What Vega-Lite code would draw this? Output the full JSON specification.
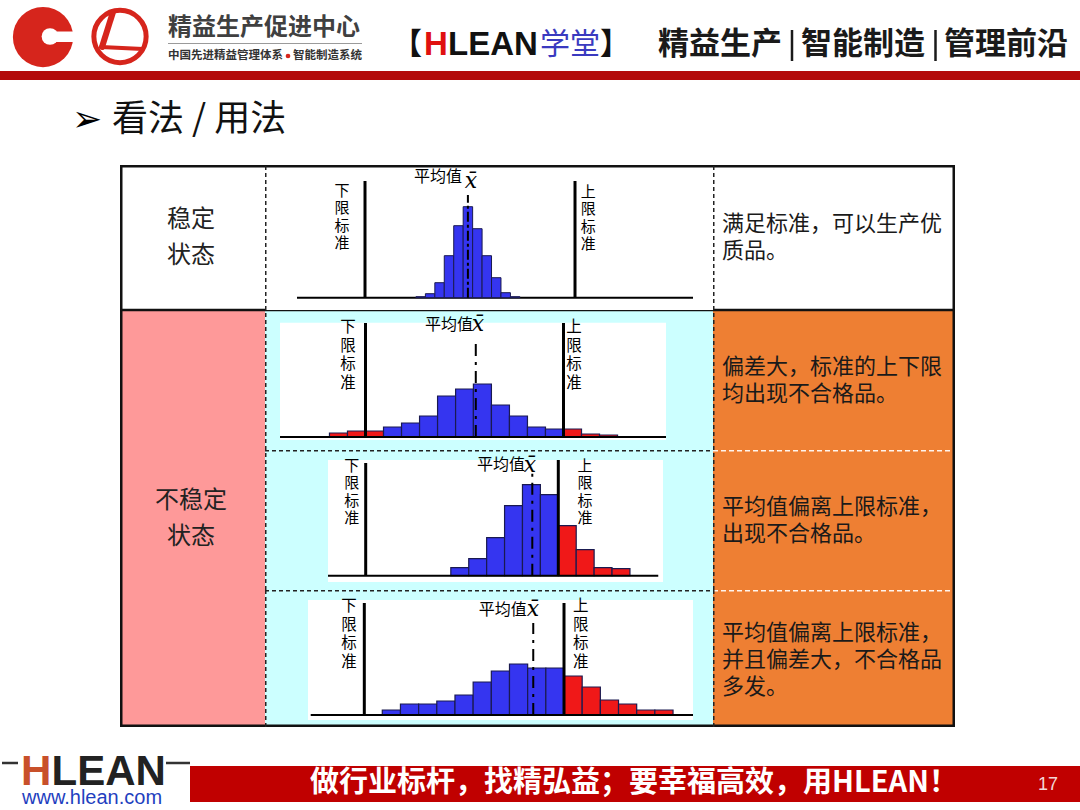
{
  "$schema": "https://vega.github.io/schema/vega-lite/v6.json",
  "padding": 0,
  "background": "white",
  "spacing": 0,
  "config": {
    "view": {"stroke": null},
    "axis": {"disable": true},
    "legend": {"disable": true},
    "text": {"font": "Noto Sans CJK SC"},
    "concat": {"spacing": 0}
  },
  "datasets": {
    "hist": [
      {"panel": 1, "lo": 12.425, "hi": 12.875, "n": 1, "status": "合格"},
      {"panel": 1, "lo": 12.875, "hi": 13.325, "n": 4, "status": "合格"},
      {"panel": 1, "lo": 13.325, "hi": 13.775, "n": 15, "status": "合格"},
      {"panel": 1, "lo": 13.775, "hi": 14.225, "n": 42, "status": "合格"},
      {"panel": 1, "lo": 14.225, "hi": 14.675, "n": 72, "status": "合格"},
      {"panel": 1, "lo": 14.675, "hi": 15.125, "n": 91, "status": "合格"},
      {"panel": 1, "lo": 15.125, "hi": 15.575, "n": 69, "status": "合格"},
      {"panel": 1, "lo": 15.575, "hi": 16.025, "n": 42, "status": "合格"},
      {"panel": 1, "lo": 16.025, "hi": 16.475, "n": 20, "status": "合格"},
      {"panel": 1, "lo": 16.475, "hi": 16.925, "n": 5, "status": "合格"},
      {"panel": 1, "lo": 16.925, "hi": 17.375, "n": 1, "status": "合格"},
      {"panel": 2, "lo": 8.18, "hi": 9.09, "n": 4, "status": "不合格"},
      {"panel": 2, "lo": 9.09, "hi": 10.0, "n": 6, "status": "不合格"},
      {"panel": 2, "lo": 10.0, "hi": 10.91, "n": 6, "status": "不合格"},
      {"panel": 2, "lo": 10.91, "hi": 11.82, "n": 10, "status": "合格"},
      {"panel": 2, "lo": 11.82, "hi": 12.73, "n": 14, "status": "合格"},
      {"panel": 2, "lo": 12.73, "hi": 13.64, "n": 21, "status": "合格"},
      {"panel": 2, "lo": 13.64, "hi": 14.55, "n": 41, "status": "合格"},
      {"panel": 2, "lo": 14.55, "hi": 15.45, "n": 48, "status": "合格"},
      {"panel": 2, "lo": 15.45, "hi": 16.36, "n": 53, "status": "合格"},
      {"panel": 2, "lo": 16.36, "hi": 17.27, "n": 32, "status": "合格"},
      {"panel": 2, "lo": 17.27, "hi": 18.18, "n": 21, "status": "合格"},
      {"panel": 2, "lo": 18.18, "hi": 19.09, "n": 10, "status": "合格"},
      {"panel": 2, "lo": 19.09, "hi": 20.0, "n": 8, "status": "合格"},
      {"panel": 2, "lo": 20.0, "hi": 20.91, "n": 8, "status": "不合格"},
      {"panel": 2, "lo": 20.91, "hi": 21.82, "n": 3, "status": "不合格"},
      {"panel": 2, "lo": 21.82, "hi": 22.73, "n": 2, "status": "不合格"},
      {"panel": 3, "lo": 14.42, "hi": 15.35, "n": 8, "status": "合格"},
      {"panel": 3, "lo": 15.35, "hi": 16.28, "n": 17, "status": "合格"},
      {"panel": 3, "lo": 16.28, "hi": 17.21, "n": 38, "status": "合格"},
      {"panel": 3, "lo": 17.21, "hi": 18.14, "n": 70, "status": "合格"},
      {"panel": 3, "lo": 18.14, "hi": 19.07, "n": 91, "status": "合格"},
      {"panel": 3, "lo": 19.07, "hi": 20.0, "n": 81, "status": "合格"},
      {"panel": 3, "lo": 20.0, "hi": 20.93, "n": 50, "status": "不合格"},
      {"panel": 3, "lo": 20.93, "hi": 21.86, "n": 26, "status": "不合格"},
      {"panel": 3, "lo": 21.86, "hi": 22.79, "n": 8, "status": "不合格"},
      {"panel": 3, "lo": 22.79, "hi": 23.72, "n": 7, "status": "不合格"},
      {"panel": 4, "lo": 10.9, "hi": 11.81, "n": 5, "status": "合格"},
      {"panel": 4, "lo": 11.81, "hi": 12.72, "n": 11, "status": "合格"},
      {"panel": 4, "lo": 12.72, "hi": 13.63, "n": 11, "status": "合格"},
      {"panel": 4, "lo": 13.63, "hi": 14.54, "n": 14, "status": "合格"},
      {"panel": 4, "lo": 14.54, "hi": 15.45, "n": 20, "status": "合格"},
      {"panel": 4, "lo": 15.45, "hi": 16.36, "n": 33, "status": "合格"},
      {"panel": 4, "lo": 16.36, "hi": 17.27, "n": 44, "status": "合格"},
      {"panel": 4, "lo": 17.27, "hi": 18.18, "n": 51, "status": "合格"},
      {"panel": 4, "lo": 18.18, "hi": 19.09, "n": 47, "status": "合格"},
      {"panel": 4, "lo": 19.09, "hi": 20.0, "n": 47, "status": "合格"},
      {"panel": 4, "lo": 20.0, "hi": 20.91, "n": 39, "status": "不合格"},
      {"panel": 4, "lo": 20.91, "hi": 21.82, "n": 28, "status": "不合格"},
      {"panel": 4, "lo": 21.82, "hi": 22.73, "n": 15, "status": "不合格"},
      {"panel": 4, "lo": 22.73, "hi": 23.64, "n": 11, "status": "不合格"},
      {"panel": 4, "lo": 23.64, "hi": 24.55, "n": 5, "status": "不合格"},
      {"panel": 4, "lo": 24.55, "hi": 25.46, "n": 5, "status": "不合格"}
    ],
    "limits": [
      {"panel": 1, "lsl": 10, "usl": 20, "mean": 14.9},
      {"panel": 2, "lsl": 10, "usl": 20, "mean": 15.57},
      {"panel": 3, "lsl": 10, "usl": 20, "mean": 18.65},
      {"panel": 4, "lsl": 10, "usl": 20, "mean": 18.46}
    ]
  },
  "vconcat": [
    {
      "width": 1080, "height": 80,
      "data": {"values": [{}]},
      "layer": [
        {"mark": {"type": "point", "shape": "circle", "filled": true, "size": 3630, "color": "#d6251c", "opacity": 1, "strokeWidth": 0},
         "encoding": {"x": {"datum": 43, "type": "quantitative", "scale": {"domain": [0, 1080], "nice": false, "zero": false}, "axis": null},
                      "y": {"datum": 37, "type": "quantitative", "scale": {"domain": [0, 80], "reverse": true, "nice": false, "zero": false}, "axis": null}}},
        {"mark": {"type": "point", "shape": "circle", "filled": true, "size": 280, "color": "white", "opacity": 1, "strokeWidth": 0},
         "encoding": {"x": {"datum": 50}, "y": {"datum": 36.5}}},
        {"mark": {"type": "rect", "color": "white"},
         "encoding": {"x": {"datum": 50}, "x2": {"datum": 80}, "y": {"datum": 31.5}, "y2": {"datum": 42}}},
        {"mark": {"type": "point", "shape": "circle", "filled": false, "size": 2734, "color": "#d6251c", "strokeWidth": 5, "opacity": 1},
         "encoding": {"x": {"datum": 120}, "y": {"datum": 36.5}}},
        {"mark": {"type": "rule", "color": "#d6251c", "strokeWidth": 6, "strokeCap": "round"},
         "encoding": {"x": {"datum": 113}, "y": {"datum": 12}, "x2": {"datum": 102}, "y2": {"datum": 47}}},
        {"mark": {"type": "rule", "color": "#d6251c", "strokeWidth": 4, "strokeCap": "round"},
         "encoding": {"x": {"datum": 101}, "y": {"datum": 47}, "x2": {"datum": 143}, "y2": {"datum": 49}}},
        {"mark": {"type": "text", "text": "精益生产促进中心", "fontSize": 24, "fontWeight": "bold", "color": "#404040", "align": "left", "baseline": "middle"},
         "encoding": {"x": {"datum": 168}, "y": {"datum": 28}}},
        {"mark": {"type": "rule", "color": "#9a9a9a", "strokeWidth": 1},
         "encoding": {"x": {"datum": 168}, "x2": {"datum": 362}, "y": {"datum": 43.5}}},
        {"mark": {"type": "text", "text": "中国先进精益管理体系", "fontSize": 11.5, "fontWeight": "bold", "color": "#333333", "align": "left", "baseline": "middle"},
         "encoding": {"x": {"datum": 168}, "y": {"datum": 56}}},
        {"mark": {"type": "point", "shape": "circle", "filled": true, "size": 22, "color": "#d6251c", "opacity": 1, "strokeWidth": 0},
         "encoding": {"x": {"datum": 288}, "y": {"datum": 56}}},
        {"mark": {"type": "text", "text": "智能制造系统", "fontSize": 11.5, "fontWeight": "bold", "color": "#333333", "align": "left", "baseline": "middle"},
         "encoding": {"x": {"datum": 293}, "y": {"datum": 56}}},
        {"mark": {"type": "text", "text": "【", "fontSize": 30, "fontWeight": "bold", "color": "#111111", "align": "left", "baseline": "middle"},
         "encoding": {"x": {"datum": 392}, "y": {"datum": 45}}},
        {"mark": {"type": "text", "text": "H", "font": "Liberation Sans", "fontSize": 33, "fontWeight": "bold", "color": "#e01010", "align": "left", "baseline": "middle"},
         "encoding": {"x": {"datum": 424}, "y": {"datum": 45}}},
        {"mark": {"type": "text", "text": "LEAN", "font": "Liberation Sans", "fontSize": 33, "fontWeight": "bold", "color": "#111111", "align": "left", "baseline": "middle"},
         "encoding": {"x": {"datum": 448}, "y": {"datum": 45}}},
        {"mark": {"type": "text", "text": "学堂", "fontSize": 30, "color": "#3a3ac0", "align": "left", "baseline": "middle"},
         "encoding": {"x": {"datum": 540}, "y": {"datum": 45}}},
        {"mark": {"type": "text", "text": "】", "fontSize": 30, "fontWeight": "bold", "color": "#111111", "align": "left", "baseline": "middle"},
         "encoding": {"x": {"datum": 600}, "y": {"datum": 45}}},
        {"mark": {"type": "text", "text": "精益生产", "fontSize": 31, "fontWeight": "bold", "color": "#1a1a1a", "align": "left", "baseline": "middle"},
         "encoding": {"x": {"datum": 658}, "y": {"datum": 45}}},
        {"mark": {"type": "rule", "color": "#1a1a1a", "strokeWidth": 2.5},
         "encoding": {"x": {"datum": 792}, "y": {"datum": 30}, "y2": {"datum": 61}}},
        {"mark": {"type": "text", "text": "智能制造", "fontSize": 31, "fontWeight": "bold", "color": "#1a1a1a", "align": "left", "baseline": "middle"},
         "encoding": {"x": {"datum": 801}, "y": {"datum": 45}}},
        {"mark": {"type": "rule", "color": "#1a1a1a", "strokeWidth": 2.5},
         "encoding": {"x": {"datum": 935.5}, "y": {"datum": 30}, "y2": {"datum": 61}}},
        {"mark": {"type": "text", "text": "管理前沿", "fontSize": 31, "fontWeight": "bold", "color": "#1a1a1a", "align": "left", "baseline": "middle"},
         "encoding": {"x": {"datum": 944}, "y": {"datum": 45}}},
        {"mark": {"type": "rect", "color": "#b30a0a"},
         "encoding": {"x": {"datum": 0}, "x2": {"datum": 1080}, "y": {"datum": 71}, "y2": {"datum": 80}}}
      ]
    },
    {
      "width": 1080, "height": 85,
      "data": {"values": [{}]},
      "layer": [
        {"mark": {"type": "text", "text": "➢", "font": "DejaVu Sans", "fontSize": 36, "color": "#000000", "align": "center", "baseline": "middle"},
         "encoding": {"x": {"datum": 87, "type": "quantitative", "scale": {"domain": [0, 1080], "nice": false, "zero": false}, "axis": null},
                      "y": {"datum": 40, "type": "quantitative", "scale": {"domain": [0, 85], "reverse": true, "nice": false, "zero": false}, "axis": null}}},
        {"mark": {"type": "text", "text": "看法 / 用法", "fontSize": 36, "color": "#111111", "align": "left", "baseline": "middle"},
         "encoding": {"x": {"datum": 112}, "y": {"datum": 40}}}
      ]
    },
    {
      "hconcat": [
        {"width": 120, "height": 562, "data": {"values": [{}]}, "mark": {"type": "text", "text": ""}},
        {
          "vconcat": [
            {
              "width": 145, "height": 145,
              "view": {"fill": "white", "stroke": null},
              "data": {"values": [{}]},
              "layer": [
                {"mark": {"type": "text", "text": ["稳定", "状态"], "fontSize": 24, "lineHeight": 36, "dy": -18, "color": "#222222", "align": "center", "baseline": "middle"},
                 "encoding": {"x": {"datum": 0.49, "type": "quantitative", "scale": {"domain": [0, 1], "nice": false, "zero": false}, "axis": null},
                              "y": {"datum": 0.5, "type": "quantitative", "scale": {"domain": [0, 1], "nice": false, "zero": false}, "axis": null}}},
                {"mark": {"type": "rule", "color": "#111111", "strokeWidth": 5, "clip": true}, "encoding": {"x": {"datum": 0}, "y": {"datum": 0}, "y2": {"datum": 1}}},
                {"mark": {"type": "rule", "color": "#111111", "strokeWidth": 5, "clip": true}, "encoding": {"x": {"datum": 0}, "x2": {"datum": 1}, "y": {"datum": 1}}},
                {"mark": {"type": "rule", "color": "#111111", "strokeWidth": 2.5, "clip": true}, "encoding": {"x": {"datum": 0}, "x2": {"datum": 1}, "y": {"datum": 0}}}
              ]
            },
            {
              "width": 145, "height": 417,
              "view": {"fill": "#fe9999", "stroke": null},
              "data": {"values": [{}]},
              "layer": [
                {"mark": {"type": "text", "text": ["不稳定", "状态"], "fontSize": 24, "lineHeight": 36, "dy": -18, "color": "#222222", "align": "center", "baseline": "middle"},
                 "encoding": {"x": {"datum": 0.49, "type": "quantitative", "scale": {"domain": [0, 1], "nice": false, "zero": false}, "axis": null},
                              "y": {"datum": 0.5, "type": "quantitative", "scale": {"domain": [0, 1], "nice": false, "zero": false}, "axis": null}}},
                {"mark": {"type": "rule", "color": "#111111", "strokeWidth": 5, "clip": true}, "encoding": {"x": {"datum": 0}, "y": {"datum": 0}, "y2": {"datum": 1}}},
                {"mark": {"type": "rule", "color": "#111111", "strokeWidth": 2.5, "clip": true}, "encoding": {"x": {"datum": 0}, "x2": {"datum": 1}, "y": {"datum": 1}}},
                {"mark": {"type": "rule", "color": "#111111", "strokeWidth": 5, "clip": true}, "encoding": {"x": {"datum": 0}, "x2": {"datum": 1}, "y": {"datum": 0}}}
              ]
            }
          ],
          "spacing": 0
        },
        {
          "vconcat": [
            {
              "width": 448, "height": 145,
              "view": {"fill": "white", "stroke": null},
              "data": {"values": [{}]},
              "layer": [
                {"mark": {"type": "rule", "color": "black", "strokeWidth": 2},
                 "encoding": {"x": {"datum": 6.762, "type": "quantitative", "scale": {"domain": [5.238, 26.571], "nice": false, "zero": false}, "axis": null},
                              "x2": {"datum": 25.619},
                              "y": {"datum": 0, "type": "quantitative", "scale": {"domain": [-12.3, 132.7], "nice": false, "zero": false}, "axis": null}}},
                {"data": {"name": "hist"}, "transform": [{"filter": "datum.panel == 1"}],
                 "mark": {"type": "rect", "stroke": "#1a1a50", "strokeWidth": 1},
                 "encoding": {"x": {"field": "lo", "type": "quantitative"}, "x2": {"field": "hi"},
                              "y": {"field": "n", "type": "quantitative"}, "y2": {"datum": 0},
                              "color": {"field": "status", "type": "nominal", "scale": {"domain": ["合格", "不合格"], "range": ["#3535f0", "#f01818"]}, "legend": null}}},
                {"data": {"name": "limits"}, "transform": [{"filter": "datum.panel == 1"}],
                 "mark": {"type": "rule", "color": "black", "strokeWidth": 3},
                 "encoding": {"x": {"field": "lsl", "type": "quantitative"}, "y": {"datum": 0}, "y2": {"datum": 116.7}}},
                {"data": {"name": "limits"}, "transform": [{"filter": "datum.panel == 1"}],
                 "mark": {"type": "rule", "color": "black", "strokeWidth": 3},
                 "encoding": {"x": {"field": "usl", "type": "quantitative"}, "y": {"datum": 0}, "y2": {"datum": 116.7}}},
                {"data": {"name": "limits"}, "transform": [{"filter": "datum.panel == 1"}],
                 "mark": {"type": "rule", "color": "black", "strokeWidth": 2, "strokeDash": [10, 3, 3, 3]},
                 "encoding": {"x": {"field": "mean", "type": "quantitative"}, "y": {"datum": 0}, "y2": {"datum": 102.7}}},
                {"mark": {"type": "text", "text": ["下", "限", "标", "准"], "fontSize": 15, "lineHeight": 17.5, "color": "black", "align": "center", "baseline": "top"},
                 "encoding": {"x": {"datum": 8.905}, "y": {"datum": 114}}},
                {"mark": {"type": "text", "text": ["上", "限", "标", "准"], "fontSize": 15, "lineHeight": 17.5, "color": "black", "align": "center", "baseline": "top"},
                 "encoding": {"x": {"datum": 20.633}, "y": {"datum": 113}}},
                {"mark": {"type": "text", "text": "平均值", "fontSize": 16, "color": "black", "align": "right", "baseline": "middle"},
                 "encoding": {"x": {"datum": 14.62}, "y": {"datum": 120.7}}},
                {"mark": {"type": "text", "text": "x̄", "font": "DejaVu Serif", "fontStyle": "italic", "fontSize": 22, "color": "black", "align": "center", "baseline": "middle"},
                 "encoding": {"x": {"datum": 15.05}, "y": {"datum": 117}}},
                {"mark": {"type": "rule", "color": "#111111", "strokeWidth": 5, "clip": true},
                 "encoding": {"x": {"datum": 5.238}, "x2": {"datum": 26.571}, "y": {"datum": 132.7}}},
                {"mark": {"type": "rule", "color": "#222222", "strokeWidth": 3, "strokeDash": [4, 3], "clip": true},
                 "encoding": {"x": {"datum": 5.238}, "y": {"datum": -12.3}, "y2": {"datum": 132.7}}}
              ]
            },
            {
              "width": 448, "height": 140,
              "view": {"fill": "#ccffff", "stroke": null},
              "data": {"values": [{}]},
              "layer": [
                {"mark": {"type": "rect", "color": "white"},
                 "encoding": {"x": {"datum": 5.682, "type": "quantitative", "scale": {"domain": [4.924, 27.551], "nice": false, "zero": false}, "axis": null},
                              "x2": {"datum": 25.177},
                              "y": {"datum": 114.3, "type": "quantitative", "scale": {"domain": [-13, 127], "nice": false, "zero": false}, "axis": null},
                              "y2": {"datum": -3}}},
                {"data": {"name": "hist"}, "transform": [{"filter": "datum.panel == 2"}],
                 "mark": {"type": "rect", "stroke": "#1a1a50", "strokeWidth": 1.2},
                 "encoding": {"x": {"field": "lo", "type": "quantitative"}, "x2": {"field": "hi"},
                              "y": {"field": "n", "type": "quantitative"}, "y2": {"datum": 0},
                              "color": {"field": "status", "type": "nominal", "scale": {"domain": ["合格", "不合格"], "range": ["#3535f0", "#f01818"]}, "legend": null}}},
                {"mark": {"type": "rule", "color": "black", "strokeWidth": 2},
                 "encoding": {"x": {"datum": 5.682}, "x2": {"datum": 25.177}, "y": {"datum": 0}}},
                {"data": {"name": "limits"}, "transform": [{"filter": "datum.panel == 2"}],
                 "mark": {"type": "rule", "color": "black", "strokeWidth": 3},
                 "encoding": {"x": {"field": "lsl", "type": "quantitative"}, "y": {"datum": 0}, "y2": {"datum": 114}}},
                {"data": {"name": "limits"}, "transform": [{"filter": "datum.panel == 2"}],
                 "mark": {"type": "rule", "color": "black", "strokeWidth": 3},
                 "encoding": {"x": {"field": "usl", "type": "quantitative"}, "y": {"datum": 0}, "y2": {"datum": 114}}},
                {"data": {"name": "limits"}, "transform": [{"filter": "datum.panel == 2"}],
                 "mark": {"type": "rule", "color": "black", "strokeWidth": 2, "strokeDash": [12, 6, 3, 6]},
                 "encoding": {"x": {"field": "mean", "type": "quantitative"}, "y": {"datum": 0}, "y2": {"datum": 94}}},
                {"mark": {"type": "text", "text": ["下", "限", "标", "准"], "fontSize": 15.5, "lineHeight": 18.5, "color": "black", "align": "center", "baseline": "top"},
                 "encoding": {"x": {"datum": 9.116}, "y": {"datum": 117}}},
                {"mark": {"type": "text", "text": ["上", "限", "标", "准"], "fontSize": 15.5, "lineHeight": 18.5, "color": "black", "align": "center", "baseline": "top"},
                 "encoding": {"x": {"datum": 20.53}, "y": {"datum": 117}}},
                {"mark": {"type": "text", "text": "平均值", "fontSize": 16, "color": "black", "align": "right", "baseline": "middle"},
                 "encoding": {"x": {"datum": 15.429}, "y": {"datum": 112}}},
                {"mark": {"type": "text", "text": "x̄", "font": "DejaVu Serif", "fontStyle": "italic", "fontSize": 22, "color": "black", "align": "center", "baseline": "middle"},
                 "encoding": {"x": {"datum": 15.682}, "y": {"datum": 113}}},
                {"mark": {"type": "rule", "color": "#111111", "strokeWidth": 2.5, "clip": true},
                 "encoding": {"x": {"datum": 4.924}, "x2": {"datum": 27.551}, "y": {"datum": 127}}},
                {"mark": {"type": "rule", "color": "#222222", "strokeWidth": 3, "strokeDash": [4, 3], "clip": true},
                 "encoding": {"x": {"datum": 4.924}, "y": {"datum": -13}, "y2": {"datum": 127}}}
              ]
            },
            {
              "width": 448, "height": 140,
              "view": {"fill": "#ccffff", "stroke": null},
              "data": {"values": [{}]},
              "layer": [
                {"mark": {"type": "rect", "color": "white"},
                 "encoding": {"x": {"datum": 8.043, "type": "quantitative", "scale": {"domain": [4.772, 28.032], "nice": false, "zero": false}, "axis": null},
                              "x2": {"datum": 25.436},
                              "y": {"datum": 115.7, "type": "quantitative", "scale": {"domain": [-14.3, 125.7], "nice": false, "zero": false}, "axis": null},
                              "y2": {"datum": -6.3}}},
                {"data": {"name": "hist"}, "transform": [{"filter": "datum.panel == 3"}],
                 "mark": {"type": "rect", "stroke": "#1a1a50", "strokeWidth": 1.2},
                 "encoding": {"x": {"field": "lo", "type": "quantitative"}, "x2": {"field": "hi"},
                              "y": {"field": "n", "type": "quantitative"}, "y2": {"datum": 0},
                              "color": {"field": "status", "type": "nominal", "scale": {"domain": ["合格", "不合格"], "range": ["#3535f0", "#f01818"]}, "legend": null}}},
                {"mark": {"type": "rule", "color": "black", "strokeWidth": 2},
                 "encoding": {"x": {"datum": 8.043}, "x2": {"datum": 25.19}, "y": {"datum": 0}}},
                {"data": {"name": "limits"}, "transform": [{"filter": "datum.panel == 3"}],
                 "mark": {"type": "rule", "color": "black", "strokeWidth": 3},
                 "encoding": {"x": {"field": "lsl", "type": "quantitative"}, "y": {"datum": 0}, "y2": {"datum": 112.7}}},
                {"data": {"name": "limits"}, "transform": [{"filter": "datum.panel == 3"}],
                 "mark": {"type": "rule", "color": "black", "strokeWidth": 3},
                 "encoding": {"x": {"field": "usl", "type": "quantitative"}, "y": {"datum": 0}, "y2": {"datum": 115.7}}},
                {"data": {"name": "limits"}, "transform": [{"filter": "datum.panel == 3"}],
                 "mark": {"type": "rule", "color": "black", "strokeWidth": 2, "strokeDash": [12, 6, 3, 6]},
                 "encoding": {"x": {"field": "mean", "type": "quantitative"}, "y": {"datum": 0}, "y2": {"datum": 107.7}}},
                {"mark": {"type": "text", "text": ["下", "限", "标", "准"], "fontSize": 15, "lineHeight": 17.5, "color": "black", "align": "center", "baseline": "top"},
                 "encoding": {"x": {"datum": 9.273}, "y": {"datum": 117}}},
                {"mark": {"type": "text", "text": ["上", "限", "标", "准"], "fontSize": 15, "lineHeight": 17.5, "color": "black", "align": "center", "baseline": "top"},
                 "encoding": {"x": {"datum": 21.386}, "y": {"datum": 117}}},
                {"mark": {"type": "text", "text": "平均值", "fontSize": 16, "color": "black", "align": "right", "baseline": "middle"},
                 "encoding": {"x": {"datum": 18.271}, "y": {"datum": 110.7}}},
                {"mark": {"type": "text", "text": "x̄", "font": "DejaVu Serif", "fontStyle": "italic", "fontSize": 22, "color": "black", "align": "center", "baseline": "middle"},
                 "encoding": {"x": {"datum": 18.53}, "y": {"datum": 111}}},
                {"mark": {"type": "rule", "color": "#222222", "strokeWidth": 3, "strokeDash": [4, 3], "clip": true},
                 "encoding": {"x": {"datum": 4.772}, "x2": {"datum": 28.032}, "y": {"datum": 125.7}}},
                {"mark": {"type": "rule", "color": "#222222", "strokeWidth": 3, "strokeDash": [4, 3], "clip": true},
                 "encoding": {"x": {"datum": 4.772}, "y": {"datum": -14.3}, "y2": {"datum": 125.7}}}
              ]
            },
            {
              "width": 448, "height": 137,
              "view": {"fill": "#ccffff", "stroke": null},
              "data": {"values": [{}]},
              "layer": [
                {"mark": {"type": "rect", "color": "white"},
                 "encoding": {"x": {"datum": 7.181, "type": "quantitative", "scale": {"domain": [5.027, 27.461], "nice": false, "zero": false}, "axis": null},
                              "x2": {"datum": 26.46},
                              "y": {"datum": 115, "type": "quantitative", "scale": {"domain": [-12, 125], "nice": false, "zero": false}, "axis": null},
                              "y2": {"datum": -5}}},
                {"data": {"name": "hist"}, "transform": [{"filter": "datum.panel == 4"}],
                 "mark": {"type": "rect", "stroke": "#1a1a50", "strokeWidth": 1.2},
                 "encoding": {"x": {"field": "lo", "type": "quantitative"}, "x2": {"field": "hi"},
                              "y": {"field": "n", "type": "quantitative"}, "y2": {"datum": 0},
                              "color": {"field": "status", "type": "nominal", "scale": {"domain": ["合格", "不合格"], "range": ["#3535f0", "#f01818"]}, "legend": null}}},
                {"mark": {"type": "rule", "color": "black", "strokeWidth": 2},
                 "encoding": {"x": {"datum": 7.316}, "x2": {"datum": 26.46}, "y": {"datum": 0}}},
                {"data": {"name": "limits"}, "transform": [{"filter": "datum.panel == 4"}],
                 "mark": {"type": "rule", "color": "black", "strokeWidth": 3},
                 "encoding": {"x": {"field": "lsl", "type": "quantitative"}, "y": {"datum": 0}, "y2": {"datum": 112}}},
                {"data": {"name": "limits"}, "transform": [{"filter": "datum.panel == 4"}],
                 "mark": {"type": "rule", "color": "black", "strokeWidth": 3},
                 "encoding": {"x": {"field": "usl", "type": "quantitative"}, "y": {"datum": 0}, "y2": {"datum": 112}}},
                {"data": {"name": "limits"}, "transform": [{"filter": "datum.panel == 4"}],
                 "mark": {"type": "rule", "color": "black", "strokeWidth": 2, "strokeDash": [12, 6, 3, 6]},
                 "encoding": {"x": {"field": "mean", "type": "quantitative"}, "y": {"datum": 0}, "y2": {"datum": 92}}},
                {"mark": {"type": "text", "text": ["下", "限", "标", "准"], "fontSize": 15.5, "lineHeight": 18.5, "color": "black", "align": "center", "baseline": "top"},
                 "encoding": {"x": {"datum": 9.234}, "y": {"datum": 116}}},
                {"mark": {"type": "text", "text": ["上", "限", "标", "准"], "fontSize": 15.5, "lineHeight": 18.5, "color": "black", "align": "center", "baseline": "top"},
                 "encoding": {"x": {"datum": 20.836}, "y": {"datum": 116}}},
                {"mark": {"type": "text", "text": "平均值", "fontSize": 16, "color": "black", "align": "right", "baseline": "middle"},
                 "encoding": {"x": {"datum": 18.132}, "y": {"datum": 105.3}}},
                {"mark": {"type": "text", "text": "x̄", "font": "DejaVu Serif", "fontStyle": "italic", "fontSize": 22, "color": "black", "align": "center", "baseline": "middle"},
                 "encoding": {"x": {"datum": 18.45}, "y": {"datum": 106}}},
                {"mark": {"type": "rule", "color": "#222222", "strokeWidth": 3, "strokeDash": [4, 3], "clip": true},
                 "encoding": {"x": {"datum": 5.027}, "x2": {"datum": 27.461}, "y": {"datum": 125}}},
                {"mark": {"type": "rule", "color": "#111111", "strokeWidth": 5, "clip": true},
                 "encoding": {"x": {"datum": 5.027}, "x2": {"datum": 27.461}, "y": {"datum": -12}}},
                {"mark": {"type": "rule", "color": "#222222", "strokeWidth": 3, "strokeDash": [4, 3], "clip": true},
                 "encoding": {"x": {"datum": 5.027}, "y": {"datum": -12}, "y2": {"datum": 125}}}
              ]
            }
          ],
          "spacing": 0
        },
        {
          "vconcat": [
            {
              "width": 242, "height": 145,
              "view": {"fill": "white", "stroke": null},
              "data": {"values": [{}]},
              "layer": [
                {"mark": {"type": "text", "text": ["满足标准，可以生产优", "质品。"], "fontSize": 22, "lineHeight": 27, "dy": -13.5, "color": "#1a1a1a", "align": "left", "baseline": "middle"},
                 "encoding": {"x": {"datum": 0.037, "type": "quantitative", "scale": {"domain": [0, 1], "nice": false, "zero": false}, "axis": null},
                              "y": {"datum": 0.5, "type": "quantitative", "scale": {"domain": [0, 1], "nice": false, "zero": false}, "axis": null}}},
                {"mark": {"type": "rule", "color": "#111111", "strokeWidth": 5, "clip": true}, "encoding": {"x": {"datum": 0}, "x2": {"datum": 1}, "y": {"datum": 1}}},
                {"mark": {"type": "rule", "color": "#111111", "strokeWidth": 2.5, "clip": true}, "encoding": {"x": {"datum": 0}, "x2": {"datum": 1}, "y": {"datum": 0}}},
                {"mark": {"type": "rule", "color": "#111111", "strokeWidth": 5, "clip": true}, "encoding": {"x": {"datum": 1}, "y": {"datum": 0}, "y2": {"datum": 1}}},
                {"mark": {"type": "rule", "color": "#222222", "strokeWidth": 3, "strokeDash": [4, 3], "clip": true}, "encoding": {"x": {"datum": 0}, "y": {"datum": 0}, "y2": {"datum": 1}}}
              ]
            },
            {
              "width": 242, "height": 140,
              "view": {"fill": "#ee7f33", "stroke": null},
              "data": {"values": [{}]},
              "layer": [
                {"mark": {"type": "text", "text": ["偏差大，标准的上下限", "均出现不合格品。"], "fontSize": 22, "lineHeight": 27, "dy": -13.5, "color": "#1a1a1a", "align": "left", "baseline": "middle"},
                 "encoding": {"x": {"datum": 0.037, "type": "quantitative", "scale": {"domain": [0, 1], "nice": false, "zero": false}, "axis": null},
                              "y": {"datum": 0.5, "type": "quantitative", "scale": {"domain": [0, 1], "nice": false, "zero": false}, "axis": null}}},
                {"mark": {"type": "rule", "color": "#111111", "strokeWidth": 2.5, "clip": true}, "encoding": {"x": {"datum": 0}, "x2": {"datum": 1}, "y": {"datum": 1}}},
                {"mark": {"type": "rule", "color": "#111111", "strokeWidth": 5, "clip": true}, "encoding": {"x": {"datum": 1}, "y": {"datum": 0}, "y2": {"datum": 1}}},
                {"mark": {"type": "rule", "color": "#222222", "strokeWidth": 3, "strokeDash": [4, 3], "clip": true}, "encoding": {"x": {"datum": 0}, "y": {"datum": 0}, "y2": {"datum": 1}}}
              ]
            },
            {
              "width": 242, "height": 140,
              "view": {"fill": "#ee7f33", "stroke": null},
              "data": {"values": [{}]},
              "layer": [
                {"mark": {"type": "text", "text": ["平均值偏离上限标准，", "出现不合格品。"], "fontSize": 22, "lineHeight": 27, "dy": -13.5, "color": "#1a1a1a", "align": "left", "baseline": "middle"},
                 "encoding": {"x": {"datum": 0.037, "type": "quantitative", "scale": {"domain": [0, 1], "nice": false, "zero": false}, "axis": null},
                              "y": {"datum": 0.5, "type": "quantitative", "scale": {"domain": [0, 1], "nice": false, "zero": false}, "axis": null}}},
                {"mark": {"type": "rule", "color": "#fff4ec", "strokeWidth": 3, "strokeDash": [5, 3], "clip": true}, "encoding": {"x": {"datum": 0}, "x2": {"datum": 1}, "y": {"datum": 1}}},
                {"mark": {"type": "rule", "color": "#111111", "strokeWidth": 5, "clip": true}, "encoding": {"x": {"datum": 1}, "y": {"datum": 0}, "y2": {"datum": 1}}},
                {"mark": {"type": "rule", "color": "#222222", "strokeWidth": 3, "strokeDash": [4, 3], "clip": true}, "encoding": {"x": {"datum": 0}, "y": {"datum": 0}, "y2": {"datum": 1}}}
              ]
            },
            {
              "width": 242, "height": 137,
              "view": {"fill": "#ee7f33", "stroke": null},
              "data": {"values": [{}]},
              "layer": [
                {"mark": {"type": "text", "text": ["平均值偏离上限标准，", "并且偏差大，不合格品", "多发。"], "fontSize": 22, "lineHeight": 27, "dy": -27, "color": "#1a1a1a", "align": "left", "baseline": "middle"},
                 "encoding": {"x": {"datum": 0.037, "type": "quantitative", "scale": {"domain": [0, 1], "nice": false, "zero": false}, "axis": null},
                              "y": {"datum": 0.49, "type": "quantitative", "scale": {"domain": [0, 1], "nice": false, "zero": false}, "axis": null}}},
                {"mark": {"type": "rule", "color": "#fff4ec", "strokeWidth": 3, "strokeDash": [5, 3], "clip": true}, "encoding": {"x": {"datum": 0}, "x2": {"datum": 1}, "y": {"datum": 1}}},
                {"mark": {"type": "rule", "color": "#111111", "strokeWidth": 5, "clip": true}, "encoding": {"x": {"datum": 1}, "y": {"datum": 0}, "y2": {"datum": 1}}},
                {"mark": {"type": "rule", "color": "#111111", "strokeWidth": 5, "clip": true}, "encoding": {"x": {"datum": 0}, "x2": {"datum": 1}, "y": {"datum": 0}}},
                {"mark": {"type": "rule", "color": "#222222", "strokeWidth": 3, "strokeDash": [4, 3], "clip": true}, "encoding": {"x": {"datum": 0}, "y": {"datum": 0}, "y2": {"datum": 1}}}
              ]
            }
          ],
          "spacing": 0
        },
        {"width": 125, "height": 562, "data": {"values": [{}]}, "mark": {"type": "text", "text": ""}}
      ],
      "spacing": 0
    },
    {
      "width": 1080, "height": 83,
      "data": {"values": [{}]},
      "layer": [
        {"mark": {"type": "rule", "color": "#333333", "strokeWidth": 2.5},
         "encoding": {"x": {"datum": 2, "type": "quantitative", "scale": {"domain": [0, 1080], "nice": false, "zero": false}, "axis": null},
                      "x2": {"datum": 18},
                      "y": {"datum": 36, "type": "quantitative", "scale": {"domain": [0, 83], "reverse": true, "nice": false, "zero": false}, "axis": null}}},
        {"mark": {"type": "rule", "color": "#333333", "strokeWidth": 2.5},
         "encoding": {"x": {"datum": 166}, "x2": {"datum": 190}, "y": {"datum": 36}}},
        {"mark": {"type": "text", "text": "H", "font": "Liberation Sans", "fontSize": 42, "fontWeight": "bold", "color": "#c8502a", "align": "left", "baseline": "alphabetic"},
         "encoding": {"x": {"datum": 21}, "y": {"datum": 58}}},
        {"mark": {"type": "text", "text": "LEAN", "font": "Liberation Sans", "fontSize": 42, "fontWeight": "bold", "color": "#222222", "align": "left", "baseline": "alphabetic"},
         "encoding": {"x": {"datum": 51.5}, "y": {"datum": 58}}},
        {"mark": {"type": "text", "text": "www.hlean.com", "font": "Liberation Sans", "fontSize": 20, "color": "#1f3fc0", "align": "left", "baseline": "middle"},
         "encoding": {"x": {"datum": 22}, "y": {"datum": 71}}},
        {"mark": {"type": "rect", "color": "#c00000"},
         "encoding": {"x": {"datum": 190}, "x2": {"datum": 1080}, "y": {"datum": 39}, "y2": {"datum": 75}}},
        {"mark": {"type": "text", "text": "做行业标杆，找精弘益；要幸福高效，用HLEAN！", "fontSize": 29, "fontWeight": "bold", "color": "white", "align": "center", "baseline": "middle"},
         "encoding": {"x": {"datum": 634}, "y": {"datum": 56}}},
        {"mark": {"type": "text", "text": "17", "font": "Liberation Sans", "fontSize": 18, "color": "#f3d6d6", "align": "center", "baseline": "middle"},
         "encoding": {"x": {"datum": 1048}, "y": {"datum": 58}}}
      ]
    }
  ]
}
